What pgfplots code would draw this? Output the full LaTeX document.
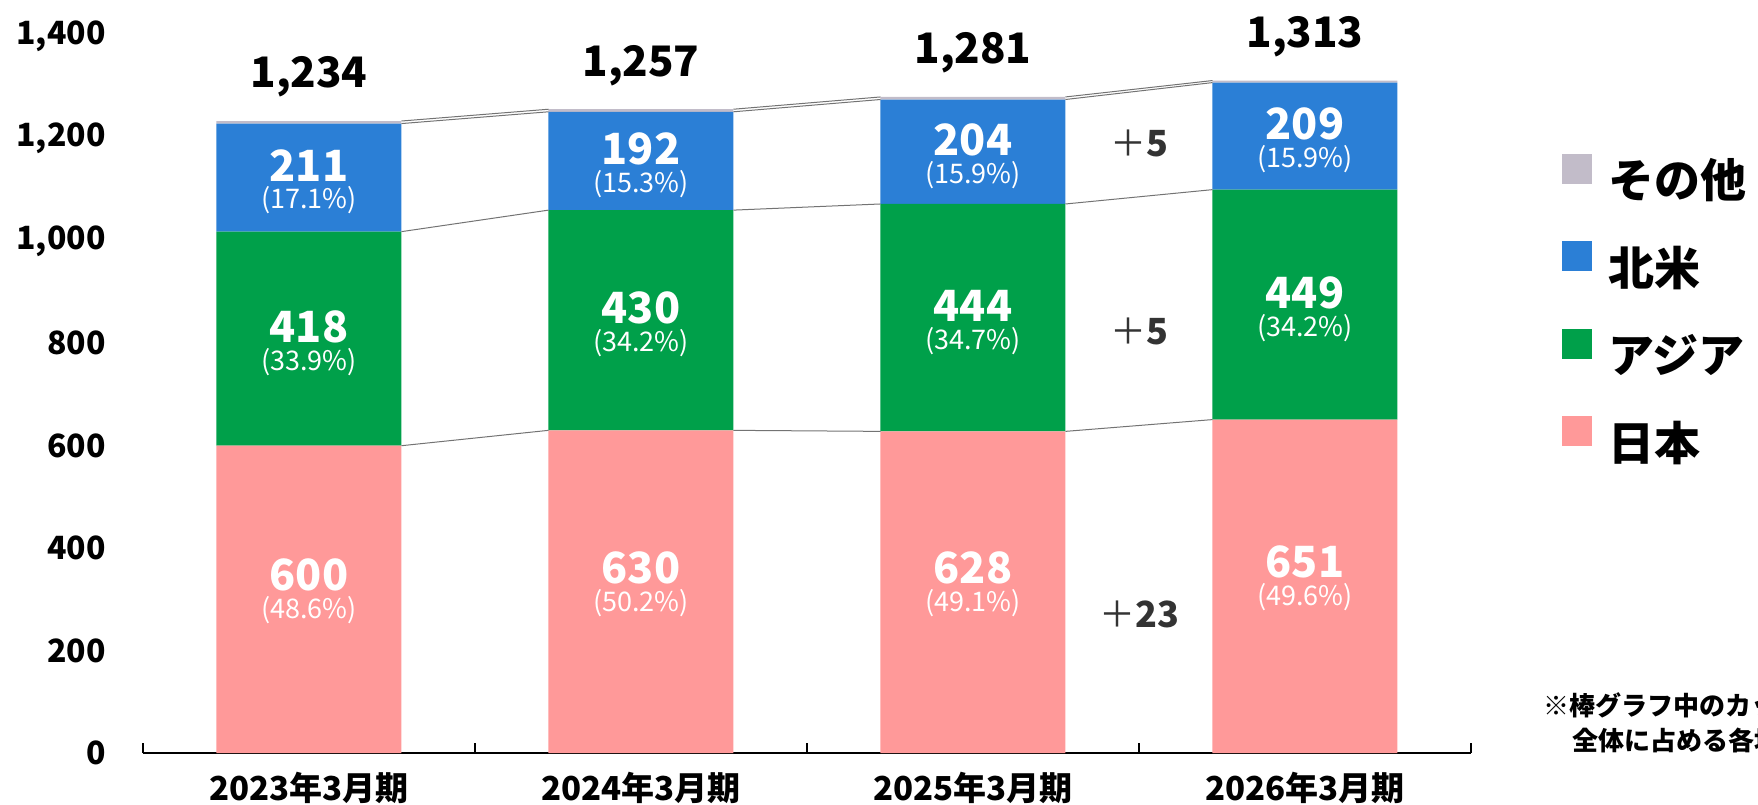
\documentclass[border=0pt]{standalone}
\usepackage{fontspec}
\setmainfont{Noto Sans CJK JP}
\usepackage{pgfplots}
\pgfplotsset{compat=1.18}
\definecolor{cjp}{HTML}{FF9999}
\definecolor{cas}{HTML}{00A04A}
\definecolor{cna}{HTML}{2B7FD6}
\definecolor{cot}{HTML}{C2BCC9}
\definecolor{ctx}{HTML}{333333}
\newcommand\lab[6]{%
  \node[font=\fontsize{21.5}{21.5}\selectfont\bfseries, text=white, inner sep=0pt] at (axis cs:#1,#2) [yshift=#5] {#3};
  \node[font=\fontsize{13.5}{13.5}\selectfont, text=white, inner sep=0pt] at (axis cs:#1,#2) [yshift=#6] {(#4\%)};
}
\newcommand\tot[3]{%
  \node[font=\fontsize{21}{21}\selectfont\bfseries, text=black, inner sep=0pt] at (axis cs:#1,#2) [yshift=22pt] {#3};
}
\newcommand\dif[3]{%
  \node[font=\fontsize{18}{18}\selectfont, text=ctx, inner sep=0pt] at (axis cs:#1,#2) {＋\textbf{#3}};
}
\begin{document}
\begin{tikzpicture}
\useasboundingbox (-71.5pt,-25.5pt) rectangle (807.5pt,376.5pt);
\begin{axis}[
  at={(0,0)}, anchor=south west,
  scale only axis, width=664pt, height=358.5pt,
  xmin=-0.5, xmax=3.5, ymin=0, ymax=1400,
  clip=false,
  ybar stacked, bar width=92.5pt,
  axis x line*=bottom, axis y line*=left,
  y axis line style={draw=none},
  x axis line style={line width=0.6pt, black, -},
  ytick={0,200,...,1400}, ytick style={draw=none},
  /pgf/number format/1000 sep={,},
  /pgf/number format/assume math mode=true,
  yticklabel style={font=\fontsize{16}{16}\selectfont\bfseries, anchor=east, inner sep=0pt, xshift=-18.5pt},
  xtick={0,1,2,3},
  xticklabels={2023年3月期,2024年3月期,2025年3月期,2026年3月期},
  xticklabel style={font=\fontsize{16.5}{16.5}\selectfont\bfseries, anchor=center, inner sep=0pt, yshift=-17.5pt},
  tick align=inside, major tick length=3.5pt,
  xtick style={line width=0.6pt, black},
  extra x ticks={-0.5,0.5,1.5,2.5,3.5}, extra x tick labels={},
  extra x tick style={major tick length=5pt, xtick style={line width=0.6pt, black}},
  reverse legend,
  legend cell align=left,
  legend image code/.code={\fill[#1,draw=none] (0pt,1pt) rectangle (15pt,16pt);},
  legend style={draw=none, fill=none, at={(rel axis cs:1.0685,0.836)}, anchor=north west,
    inner sep=0pt, column sep=8pt, row sep=16.75pt,
    font=\fontsize{23}{23}\selectfont\bfseries,
    nodes={inner sep=0pt, text height=17pt, text depth=5pt}},
]
\addplot+[fill=cjp, draw=none] coordinates {(0,600) (1,630) (2,628) (3,651)};
\addplot+[fill=cas, draw=none] coordinates {(0,418) (1,430) (2,444) (3,449)};
\addplot+[fill=cna, draw=none] coordinates {(0,211) (1,192) (2,204) (3,209)};
\addplot+[fill=cot, draw=none] coordinates {(0,5) (1,5) (2,5) (3,4)};
\legend{日本,アジア,北米,その他}
\node[font=\fontsize{13}{13}\selectfont\bfseries, anchor=west, inner sep=0pt] at (rel axis cs:1.054,0.067) {※棒グラフ中のカッコ内は、};
\node[font=\fontsize{13}{13}\selectfont\bfseries, anchor=west, inner sep=0pt] at (rel axis cs:1.076,0.018) {全体に占める各地域の割合};
\end{axis}
\begin{axis}[
  at={(0,0)}, anchor=south west,
  scale only axis, width=664pt, height=358.5pt,
  xmin=-0.5, xmax=3.5, ymin=0, ymax=1400,
  hide axis, clip=false,
]
\addplot[draw=gray!90!black, line width=0.5pt, mark=none, unbounded coords=jump] coordinates {(0.2786,600) (0.7214,630) (1,nan) (1.2786,630) (1.7214,628) (2,nan) (2.2786,628) (2.7214,651)};
\addplot[draw=gray!90!black, line width=0.5pt, mark=none, unbounded coords=jump] coordinates {(0.2786,1018) (0.7214,1060) (1,nan) (1.2786,1060) (1.7214,1072) (2,nan) (2.2786,1072) (2.7214,1100)};
\addplot[draw=gray!90!black, line width=0.5pt, mark=none, unbounded coords=jump] coordinates {(0.2786,1229) (0.7214,1252) (1,nan) (1.2786,1252) (1.7214,1276) (2,nan) (2.2786,1276) (2.7214,1309)};
\addplot[draw=gray!90!black, line width=0.5pt, mark=none, unbounded coords=jump] coordinates {(0.2786,1234) (0.7214,1257) (1,nan) (1.2786,1257) (1.7214,1281) (2,nan) (2.2786,1281) (2.7214,1313)};
\lab{0}{300}{600}{48.6}{12pt}{-5.5pt}
\lab{1}{315}{630}{50.2}{12pt}{-5.5pt}
\lab{2}{314}{628}{49.1}{12pt}{-5.5pt}
\lab{3}{325.5}{651}{49.6}{12pt}{-5.5pt}
\lab{0}{809}{418}{33.9}{6pt}{-11.5pt}
\lab{1}{845}{430}{34.2}{6pt}{-11.5pt}
\lab{2}{850}{444}{34.7}{6pt}{-11.5pt}
\lab{3}{875.5}{449}{34.2}{6pt}{-11.5pt}
\lab{0}{1123.5}{211}{17.1}{6pt}{-11.5pt}
\lab{1}{1156}{192}{15.3}{6pt}{-11.5pt}
\lab{2}{1174}{204}{15.9}{6pt}{-11.5pt}
\lab{3}{1204.5}{209}{15.9}{6pt}{-11.5pt}
\tot{0}{1234}{1,234}
\tot{1}{1257}{1,257}
\tot{2}{1281}{1,281}
\tot{3}{1313}{1,313}
\dif{2.5}{1190}{5}
\dif{2.5}{824}{5}
\dif{2.5}{270}{23}
\end{axis}
\end{tikzpicture}
\end{document}
